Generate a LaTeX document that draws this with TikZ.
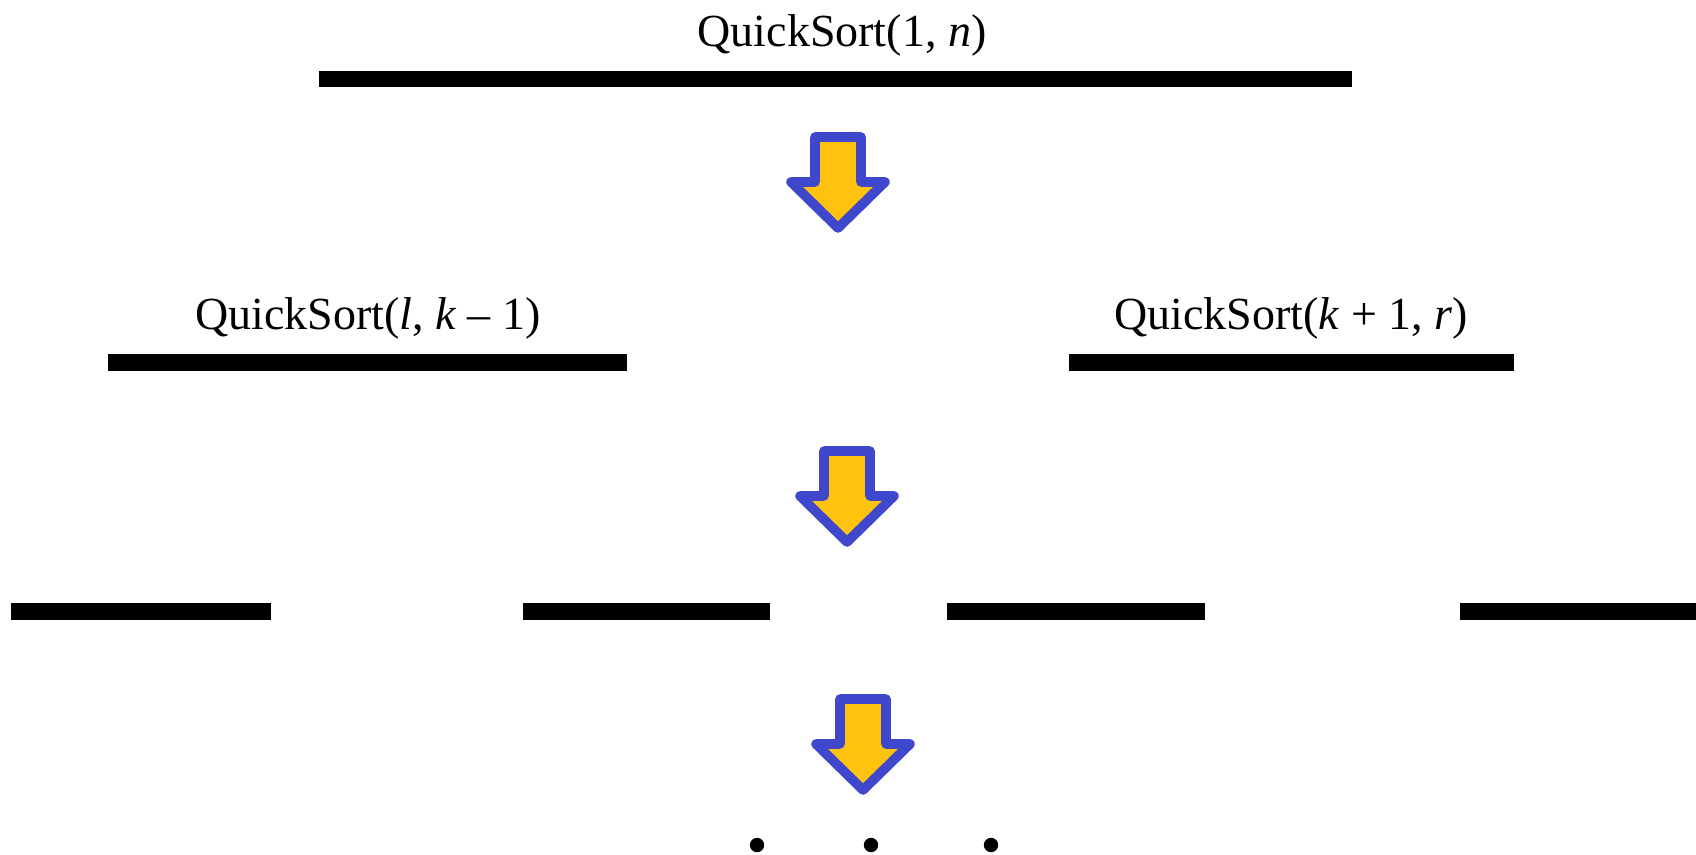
\documentclass[tikz,border=0pt]{standalone}
\usepackage{fontspec}
\setmainfont{Liberation Serif}
\definecolor{arrowfill}{HTML}{FFC20E}
\definecolor{arrowline}{HTML}{3F48CC}
\tikzset{
  lbl/.style={anchor=base, inner sep=0pt, font=\fontsize{23pt}{27pt}\selectfont},
  bar/.style={fill=black},
  downarrow/.pic={
    \draw[fill=arrowfill, draw=arrowline, line width=4.8pt, line join=round]
      (-23,5) -- (23,5) -- (23,50) -- (47,50) -- (0,96) -- (-47,50) -- (-23,50) -- cycle;
  }
}
\begin{document}
\begin{tikzpicture}[x=0.5pt,y=-0.5pt]
\useasboundingbox (0,0) rectangle (1696,855);
% level 1
\node[lbl] (t1) at (842,47) {QuickSort(1, \textit{n})};
\fill[bar] (319,71) rectangle (1352,87);
\pic at (838,132) {downarrow};
% level 2
\node[lbl] (t2) at (368,330) {QuickSort(\textit{l}, \textit{k} – 1)};
\node[lbl] (t3) at (1291,330) {QuickSort(\textit{k} + 1, \textit{r})};
\fill[bar] (108,354) rectangle (627,371);
\fill[bar] (1069,354) rectangle (1514,371);
\pic at (847,446) {downarrow};
% level 3
\fill[bar] (11,603) rectangle (271,620);
\fill[bar] (523,603) rectangle (770,620);
\fill[bar] (947,603) rectangle (1205,620);
\fill[bar] (1460,603) rectangle (1696,620);
\pic at (863,694) {downarrow};
% dots
\fill (757,845) circle (3.6pt);
\fill (871,845) circle (3.6pt);
\fill (991,845) circle (3.6pt);
\end{tikzpicture}
\end{document}
